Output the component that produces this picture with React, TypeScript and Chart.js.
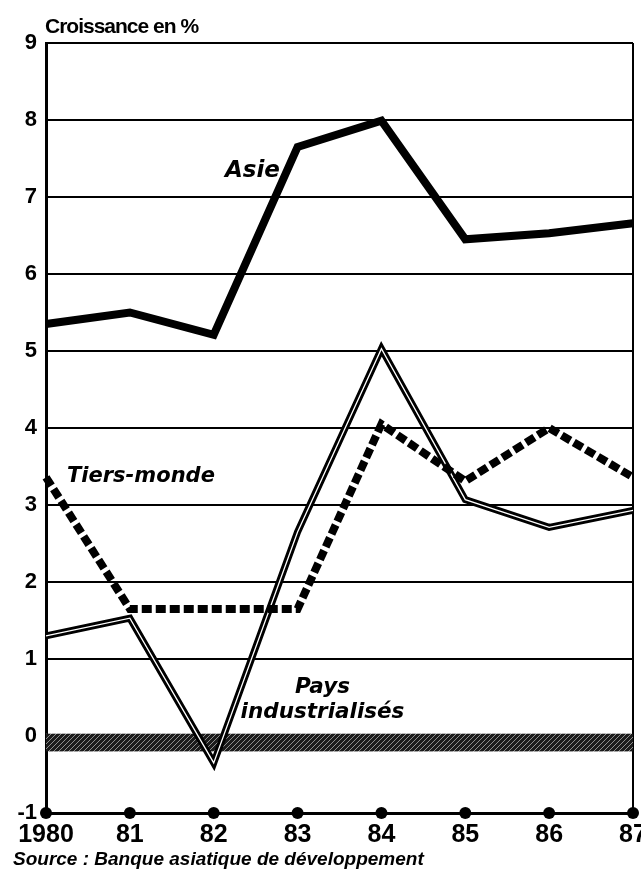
import { useEffect, useRef } from 'react';
import { Chart, registerables } from 'chart.js';

Chart.register(...registerables);

const categories = ['1980', '81', '82', '83', '84', '85', '86', '87'];
const asie = [5.35, 5.5, 5.21, 7.65, 7.99, 6.45, 6.53, 6.66];
const tiersMonde = [3.36, 1.65, 1.65, 1.65, 4.05, 3.31, 4.0, 3.36];
const paysIndustrialises = [1.3, 1.53, -0.35, 2.65, 5.03, 3.07, 2.71, 2.93];
const yMin = -1;
const yMax = 9;
const bandTop = 0.03;
const bandBottom = -0.2;

function makePattern(): CanvasPattern | string {
  const c = document.createElement('canvas');
  c.width = 5;
  c.height = 5;
  const g = c.getContext('2d');
  if (!g) return '#222';
  g.fillStyle = '#1c1c1c';
  g.fillRect(0, 0, 5, 5);
  g.strokeStyle = 'rgba(255,255,255,0.5)';
  g.lineWidth = 1;
  g.beginPath();
  g.moveTo(0, 5);
  g.lineTo(5, 0);
  g.stroke();
  const p = g.createPattern(c, 'repeat');
  return p || '#222';
}

export default function App() {
  const ref = useRef<HTMLCanvasElement | null>(null);

  useEffect(() => {
    if (!ref.current) return;
    const pattern = makePattern();

    const bandPlugin = {
      id: 'zeroBand',
      beforeDatasetsDraw(chart: any) {
        const { ctx, chartArea, scales } = chart;
        const y = scales.y;
        const t = y.getPixelForValue(bandTop);
        const b = y.getPixelForValue(bandBottom);
        ctx.save();
        ctx.fillStyle = pattern;
        ctx.fillRect(chartArea.left, t, chartArea.right - chartArea.left, b - t);
        ctx.restore();
      },
    };

    const dotsPlugin = {
      id: 'axisDots',
      afterDraw(chart: any) {
        const { ctx, chartArea, scales } = chart;
        const x = scales.x;
        ctx.save();
        ctx.fillStyle = '#000';
        x.ticks.forEach((_: any, i: number) => {
          ctx.beginPath();
          ctx.arc(x.getPixelForTick(i), chartArea.bottom, 6, 0, Math.PI * 2);
          ctx.fill();
        });
        ctx.restore();
      },
    };

    const chart = new Chart(ref.current, {
      type: 'line',
      data: {
        labels: categories,
        datasets: [
          {
            label: 'Asie',
            data: asie,
            borderColor: '#000',
            borderWidth: 8,
            borderJoinStyle: 'miter',
            pointRadius: 0,
            tension: 0,
          },
          {
            label: 'Tiers-monde',
            data: tiersMonde,
            borderColor: '#000',
            borderWidth: 8,
            borderDash: [10, 4],
            borderCapStyle: 'butt',
            borderJoinStyle: 'miter',
            pointRadius: 0,
            tension: 0,
          },
          {
            label: 'Pays industrialisés (core)',
            data: paysIndustrialises,
            borderColor: '#fff',
            borderWidth: 1.3,
            borderJoinStyle: 'miter',
            pointRadius: 0,
            tension: 0,
          },
          {
            label: 'Pays industrialisés',
            data: paysIndustrialises,
            borderColor: '#000',
            borderWidth: 7,
            borderJoinStyle: 'miter',
            pointRadius: 0,
            tension: 0,
          },
        ],
      },
      options: {
        animation: false,
        responsive: false,
        maintainAspectRatio: false,
        layout: { padding: { top: 43, right: 8, left: 0, bottom: 0 } },
        plugins: {
          legend: { display: false },
          tooltip: { enabled: false },
          title: { display: false },
        },
        scales: {
          x: {
            type: 'category',
            offset: false,
            grid: {
              drawTicks: false,
              lineWidth: 2,
              color: (c: any) => (c.index === categories.length - 1 ? '#000' : 'rgba(0,0,0,0)'),
            },
            border: { display: true, color: '#000', width: 3 },
            ticks: {
              color: '#000',
              padding: 7,
              maxRotation: 0,
              autoSkip: false,
              font: { family: "'Liberation Sans', Arial, sans-serif", weight: 'bold', size: 25 },
            },
            afterFit: (s: any) => {
              s.height = 58;
              s.paddingLeft = 0;
              s.paddingRight = 0;
            },
          },
          y: {
            min: yMin,
            max: yMax,
            ticks: {
              stepSize: 1,
              color: '#000',
              padding: 9,
              font: { family: "'Liberation Sans', Arial, sans-serif", weight: 'bold', size: 22 },
            },
            grid: { drawTicks: false, lineWidth: 2, color: '#000' },
            border: { display: true, color: '#000', width: 3 },
            afterFit: (s: any) => {
              s.width = 46;
              s.paddingTop = 0;
              s.paddingBottom = 0;
            },
          },
        },
      },
      plugins: [bandPlugin, dotsPlugin],
    } as any);

    return () => chart.destroy();
  }, []);

  const label = (extra: React.CSSProperties): React.CSSProperties => ({
    position: 'absolute',
    fontFamily: "'DejaVu Sans', sans-serif",
    fontWeight: 'bold',
    fontStyle: 'italic',
    lineHeight: 1,
    whiteSpace: 'nowrap',
    color: '#000',
    ...extra,
  });

  return (
    <div style={{ position: 'absolute', left: 0, top: 0, width: 641, height: 871, background: '#fff', overflow: 'hidden' }}>
      <canvas ref={ref} width={641} height={871} style={{ position: 'absolute', left: 0, top: 0 }} />
      <div
        style={{
          position: 'absolute',
          left: 45,
          top: 15,
          fontFamily: "'Liberation Sans', Arial, sans-serif",
          fontWeight: 'bold',
          fontSize: 21,
          letterSpacing: -1,
          lineHeight: 1,
          whiteSpace: 'nowrap',
        }}
      >
        Croissance en %
      </div>
      <div style={label({ left: 225, top: 158, fontSize: 23 })}>Asie</div>
      <div style={label({ left: 67, top: 465, fontSize: 21 })}>Tiers-monde</div>
      <div style={label({ left: 240, top: 673, fontSize: 21.5, textAlign: 'center', width: 165, lineHeight: '25px' })}>
        Pays
        <br />
        industrialisés
      </div>
      <div
        style={{
          position: 'absolute',
          left: 13,
          top: 849,
          fontFamily: "'Liberation Sans', Arial, sans-serif",
          fontWeight: 'bold',
          fontStyle: 'italic',
          fontSize: 19,
          lineHeight: 1,
          whiteSpace: 'nowrap',
        }}
      >
        Source : Banque asiatique de développement
      </div>
    </div>
  );
}
